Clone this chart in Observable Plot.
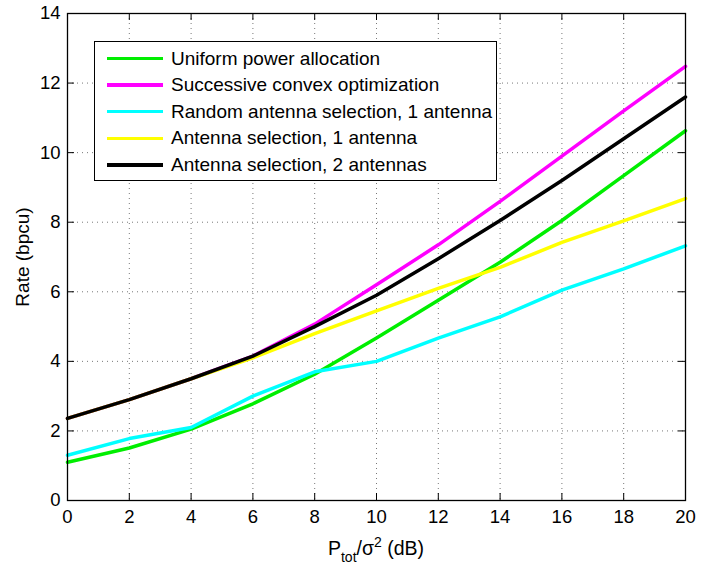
<!DOCTYPE html>
<html><head><meta charset="utf-8">
<script src="https://cdn.jsdelivr.net/npm/d3@7"></script>
<script src="https://cdn.jsdelivr.net/npm/@observablehq/plot@0.6"></script>
<style>
body{margin:0;background:#fff;}
#wrap{position:relative;width:720px;height:564px;font-family:"Liberation Sans",Arial,Helvetica,sans-serif;}
#legend{position:absolute;left:94px;top:41px;width:401px;height:138px;border:1.5px solid #000;background:#fff;}
.row{position:absolute;left:0;height:26px;display:flex;align-items:center;font-size:19px;color:#000;white-space:nowrap;}
.sw{width:56px;height:3.5px;margin-left:12px;margin-right:8px;}
</style></head>
<body><div id="wrap"></div>
<script>
const snr = [0, 2, 4, 6, 8, 10, 12, 14, 16, 18, 20];
const uniform    = [1.10, 1.51, 2.05, 2.78, 3.63, 4.67, 5.76, 6.85, 8.05, 9.34, 10.63];
const sco        = [2.36, 2.90, 3.50, 4.15, 5.07, 6.20, 7.35, 8.60, 9.90, 11.20, 12.48];
const randomSel1 = [1.30, 1.78, 2.10, 3.00, 3.70, 4.00, 4.67, 5.28, 6.05, 6.66, 7.32];
const sel1       = [2.36, 2.90, 3.50, 4.10, 4.80, 5.45, 6.10, 6.70, 7.42, 8.04, 8.68];
const sel2       = [2.36, 2.90, 3.50, 4.15, 5.00, 5.90, 6.95, 8.05, 9.20, 10.40, 11.60];
const seriesNames = ["Uniform power allocation", "Successive convex optimization", "Random antenna selection, 1 antenna", "Antenna selection, 1 antenna", "Antenna selection, 2 antennas"];
const seriesColors = ["#00ee00", "#ff00ff", "#00ffff", "#ffff00", "#000000"];
const seriesValues = [uniform, sco, randomSel1, sel1, sel2];
const xTicks = [0, 2, 4, 6, 8, 10, 12, 14, 16, 18, 20];
const yTicks = [0, 2, 4, 6, 8, 10, 12, 14];
const yLabel = "Rate (bpcu)";

const W = 720, H = 564, mL = 67, mR = 35, mT = 13, mB = 64;
const innerW = W - mL - mR, innerH = H - mT - mB;
const font = "'Liberation Sans', Arial, Helvetica, sans-serif";

const data = seriesNames.flatMap((name, k) => snr.map((x, i) => ({x, y: seriesValues[k][i], name})));
const gridStyle = {stroke: "#777", strokeOpacity: 1, strokeWidth: 1, strokeDasharray: "1,4"};

const plot = Plot.plot({
  width: W, height: H,
  marginLeft: mL, marginRight: mR, marginTop: mT, marginBottom: mB,
  style: {fontFamily: font, fontSize: "18.5px", background: "white", color: "black"},
  x: {domain: [0, 20]},
  y: {domain: [0, 14]},
  marks: [
    Plot.gridX(xTicks, gridStyle),
    Plot.gridY(yTicks, gridStyle),
    Plot.axisX(xTicks, {tickSize: 0, tickPadding: 9, label: null, fontSize: 18.5}),
    Plot.axisY(yTicks, {tickSize: 0, tickPadding: 7, label: null, fontSize: 18.5}),
    Plot.tickX(xTicks, {x: d => d, insetTop: innerH - 7, stroke: "black"}),
    Plot.tickX(xTicks, {x: d => d, insetBottom: innerH - 7, stroke: "black"}),
    Plot.tickY(yTicks, {y: d => d, insetRight: innerW - 7, stroke: "black"}),
    Plot.tickY(yTicks, {y: d => d, insetLeft: innerW - 7, stroke: "black"}),
    ...seriesNames.map((name, k) => Plot.line(data.filter(d => d.name === name), {x: "x", y: "y", stroke: seriesColors[k], strokeWidth: 3.5})),
    Plot.frame({stroke: "black", strokeWidth: 1.3})
  ]
});

const svg = d3.select(plot);
const xl = svg.append("text").attr("x", 376).attr("y", 555).attr("text-anchor", "middle")
  .attr("font-size", 19.5).attr("font-family", font).attr("fill", "black");
xl.append("tspan").text("P");
xl.append("tspan").attr("font-size", 14).attr("dy", 7).text("tot");
xl.append("tspan").attr("dy", -7).text("/σ");
xl.append("tspan").attr("font-size", 14).attr("dy", -8).text("2");
xl.append("tspan").attr("dy", 8).text(" (dB)");
svg.append("text").attr("transform", "translate(29,257) rotate(-90)").attr("text-anchor", "middle")
  .attr("font-size", 19).attr("font-family", font).attr("fill", "black").text(yLabel);

const wrap = document.getElementById("wrap");
wrap.appendChild(plot);
const legend = document.createElement("div");
legend.id = "legend";
seriesNames.forEach((name, k) => {
  const row = document.createElement("div");
  row.className = "row";
  row.style.top = (3.5 + k * 26.6) + "px";
  const sw = document.createElement("div");
  sw.className = "sw";
  sw.style.background = seriesColors[k];
  const t = document.createElement("span");
  t.textContent = name;
  row.appendChild(sw); row.appendChild(t);
  legend.appendChild(row);
});
wrap.appendChild(legend);
</script>
</body></html>
